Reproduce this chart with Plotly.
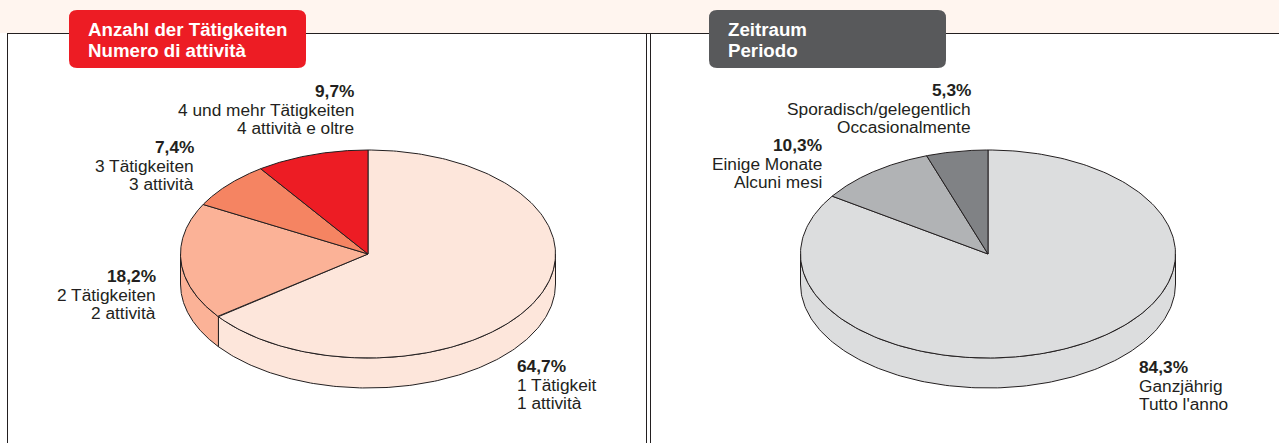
import numpy as np
import plotly.graph_objects as go

# ---- data ----
activity_pct = [64.7, 18.2, 7.4, 9.7]
activity_pct_labels = ["64,7%", "18,2%", "7,4%", "9,7%"]
activity_de = ["1 Tätigkeit", "2 Tätigkeiten", "3 Tätigkeiten", "4 und mehr Tätigkeiten"]
activity_it = ["1 attività", "2 attività", "3 attività", "4 attività e oltre"]
activity_title = ["Anzahl der Tätigkeiten", "Numero di attività"]

period_pct = [84.3, 10.3, 5.3]
period_pct_labels = ["84,3%", "10,3%", "5,3%"]
period_de = ["Ganzjährig", "Einige Monate", "Sporadisch/gelegentlich"]
period_it = ["Tutto l'anno", "Alcuni mesi", "Occasionalmente"]
period_title = ["Zeitraum", "Periodo"]

# ---- styling ----
activity_colors = ["#fde6db", "#fbb297", "#f58462", "#ed1c24"]
period_colors = ["#dcddde", "#b1b3b5", "#808285"]
INK = "#231f20"
FONT = "Liberation Sans"
RX, RY, DEPTH = 187.5, 104, 30
W, H = 1279, 443

fig = go.Figure()


def ell(cx, cy, deg):
    a = np.radians(deg)
    return cx + RX * np.sin(a), cy - RY * np.cos(a)


def add_poly(x, y, color):
    fig.add_trace(go.Scatter(x=x, y=y, mode="lines", fill="toself", fillcolor=color,
                             line=dict(color=INK, width=1), hoverinfo="skip",
                             showlegend=False))


def add_pie(cx, cy, values, colors):
    total = sum(values)
    edges = np.concatenate([[0], np.cumsum(values) / total * 360])
    # rim: the part of each slice that lies on the front half of the disc
    for i, col in enumerate(colors):
        lo, hi = max(edges[i], 90), min(edges[i + 1], 270)
        if hi <= lo:
            continue
        t = np.linspace(lo, hi, 160)
        x, y = ell(cx, cy, t)
        add_poly(np.r_[x, x[::-1], x[0]], np.r_[y, y[::-1] + DEPTH, y[0]], col)
    # top face
    for i, col in enumerate(colors):
        t = np.linspace(edges[i], edges[i + 1], 240)
        x, y = ell(cx, cy, t)
        add_poly(np.r_[cx, x, cx], np.r_[cy, y, cy], col)


add_pie(368, 254, activity_pct, activity_colors)
add_pie(988, 254, period_pct, period_colors)


def rounded(x0, y0, x1, y1, r):
    return (f"M{x0+r},{y0} L{x1-r},{y0} Q{x1},{y0} {x1},{y0+r} L{x1},{y1-r} Q{x1},{y1} {x1-r},{y1} "
            f"L{x0+r},{y1} Q{x0},{y1} {x0},{y1-r} L{x0},{y0+r} Q{x0},{y0} {x0+r},{y0} Z")


frame = dict(color=INK, width=1)
shapes = [
    dict(type="rect", x0=0, x1=W, y0=0, y1=33, fillcolor="#fff5ef", line_width=0, layer="below"),
    dict(type="line", x0=7.5, x1=7.5, y0=33, y1=H, line=frame),
    dict(type="line", x0=7.5, x1=W, y0=33.5, y1=33.5, line=frame),
    dict(type="line", x0=646.5, x1=646.5, y0=33, y1=H, line=frame),
    dict(type="line", x0=650.5, x1=650.5, y0=33, y1=H, line=frame),
    dict(type="path", path=rounded(69, 10, 306, 68, 8), fillcolor="#ed1c24", line_width=0),
    dict(type="path", path=rounded(709, 10, 946, 68, 8), fillcolor="#58595b", line_width=0),
]

ann = []


def text(x, y, s, anchor="right", bold=False, size=17.3, color=INK):
    ann.append(dict(x=x, y=y, text=f"<b>{s}</b>" if bold else s, showarrow=False,
                    xanchor=anchor, yanchor="middle", xref="x", yref="y",
                    borderpad=0, borderwidth=0,
                    font=dict(family=FONT, size=size, color=color)))


def label(x, y, pct, de, it, anchor="right"):
    text(x, y, pct, anchor, bold=True)
    text(x, y + 18.5, de, anchor)
    text(x, y + 37, it, anchor)


label(517, 366, activity_pct_labels[0], activity_de[0], activity_it[0], "left")
label(156, 276, activity_pct_labels[1], activity_de[1], activity_it[1])
label(194, 147, activity_pct_labels[2], activity_de[2], activity_it[2])
label(354, 91, activity_pct_labels[3], activity_de[3], activity_it[3])
label(1139, 367, period_pct_labels[0], period_de[0], period_it[0], "left")
label(822, 145, period_pct_labels[1], period_de[1], period_it[1])
label(971, 90, period_pct_labels[2], period_de[2], period_it[2])

for x, lines in ((88, activity_title), (728, period_title)):
    text(x, 29, lines[0], "left", bold=True, size=18.7, color="white")
    text(x, 50, lines[1], "left", bold=True, size=18.7, color="white")

fig.update_layout(
    width=W, height=H, margin=dict(l=0, r=0, t=0, b=0), autosize=False,
    paper_bgcolor="white", plot_bgcolor="white", showlegend=False,
    xaxis=dict(range=[0, W], visible=False, fixedrange=True),
    yaxis=dict(range=[H, 0], visible=False, fixedrange=True),
    shapes=shapes, annotations=ann,
)

fig.write_html("out.html", config={"displayModeBar": False},
               post_script="document.body.style.margin='0';document.body.style.overflow='hidden';")
